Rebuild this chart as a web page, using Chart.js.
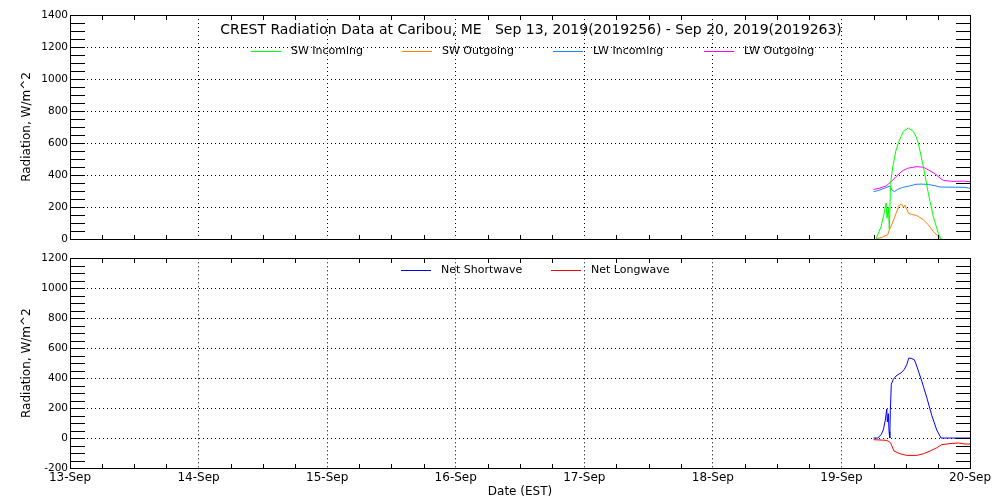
<!DOCTYPE html>
<html>
<head>
<meta charset="utf-8">
<script src="https://cdn.jsdelivr.net/npm/chart.js@4.4.1/dist/chart.umd.min.js"></script>
<style>
  body { margin: 0; background: #fff; }
  canvas { display: block; }
</style>
</head>
<body>
<canvas id="radChart" width="1000" height="250"></canvas>
<canvas id="netChart" width="1000" height="250"></canvas>
<script>
const dayLabels = ['13-Sep', '14-Sep', '15-Sep', '16-Sep', '17-Sep', '18-Sep', '19-Sep', '20-Sep'];
const titleText = 'CREST Radiation Data at Caribou, ME   Sep 13, 2019(2019256) - Sep 20, 2019(2019263)';

// hours after 19-Sep 00:00 EST, values in W/m^2
const swInHours = [6.46, 7.39, 8.01, 8.33, 8.51, 8.75, 8.94, 9.13, 9.26, 9.58, 10.19, 10.62, 11.13, 11.55, 12.49, 13.42, 13.93, 14.35, 15.29, 16.22, 17.15, 18.09, 18.59];
const swIn = [0, 77, 167, 225, 130, 200, 60, 290, 370, 452, 556, 599, 640, 672, 694, 672, 640, 599, 452, 286, 140, 35, 0];

const swOutHours = [6.46, 7.71, 8.64, 8.94, 9.45, 10.19, 10.81, 11.26, 11.55, 11.87, 12.19, 12.56, 13.31, 13.93, 14.35, 15.29, 16.22, 17.15, 18.09, 18.72];
const swOut = [0, 12, 27, 58, 94, 160, 212, 217, 198, 212, 185, 160, 152, 148, 141, 120, 89, 47, 16, 0];

const lwInHours = [6.0, 6.78, 8.01, 9.07, 9.45, 9.87, 10.51, 11.44, 12.67, 13.93, 14.99, 16.22, 17.47, 18.41, 23.07, 24.0];
const lwIn = [296, 302, 317, 331, 306, 296, 310, 323, 331, 342, 343, 341, 333, 325, 323, 317];

const lwOutHours = [6.0, 7.07, 8.33, 9.26, 10.19, 11.44, 12.38, 13.93, 15.29, 16.22, 17.47, 18.41, 19.03, 20.89, 22.75, 24.0];
const lwOut = [310, 317, 331, 358, 390, 427, 442, 452, 449, 432, 408, 381, 366, 360, 362, 358];

const netSwHours = [6.0, 6.78, 7.39, 7.82, 8.19, 8.46, 8.57, 8.75, 8.89, 9.02, 9.13, 9.31, 9.69, 10.19, 10.81, 11.13, 11.74, 12.19, 12.56, 12.99, 13.61, 13.93, 14.99, 15.92, 16.86, 17.79, 18.59, 24.0];
const netSw = [0, 0, 22, 54, 120, 194, 108, 163, 43, 0, 185, 359, 392, 414, 429, 435, 458, 490, 533, 533, 523, 494, 381, 272, 152, 54, 0, 0];

const netLwHours = [6.0, 8.33, 8.94, 9.26, 9.82, 10.94, 12.19, 14.06, 15.29, 16.54, 17.79, 18.72, 20.27, 21.82, 23.07, 24.0];
const netLw = [-11, -15, -24, -39, -87, -105, -116, -116, -105, -87, -65, -44, -37, -33, -40, -40];

// x axis is in days since 13-Sep 00:00
const toPoints = (hours, vals) => hours.map((h, i) => ({x: 6 + h / 24, y: vals[i]}));

Chart.defaults.font.family = 'DejaVu Sans';
Chart.defaults.color = '#000';

// box round the plot and the small inward ticks, IDL style
const frameTicks = {
    id: 'frameTicks',
    afterDraw(chart, args, opts) {
        const {ctx, chartArea: a} = chart;
        const xs = chart.scales.x, ys = chart.scales.y;
        const L = Math.round(a.left), R = Math.round(a.right);
        const T = Math.round(a.top), B = Math.round(a.bottom);
        ctx.save();
        ctx.fillStyle = '#000';
        const nY = Math.round((opts.yMax - opts.yMin) / 50);
        for (let i = 0; i <= nY; i++) {
            const yy = Math.round(ys.getPixelForValue(opts.yMin + i * 50));
            ctx.fillRect(L, yy, 15, 1);
            ctx.fillRect(R - 14, yy, 15, 1);
        }
        for (let i = 1; i < 28; i++) {
            if (i % 4 === 0) continue;
            const xx = Math.round(xs.getPixelForValue(i / 4));
            ctx.fillRect(xx, B - 4, 1, 5);
            ctx.fillRect(xx, T, 1, 5);
        }
        ctx.fillRect(L, T, R - L + 1, 1);
        ctx.fillRect(L, B, R - L + 1, 1);
        ctx.fillRect(L, T, 1, B - T + 1);
        ctx.fillRect(R, T, 1, B - T + 1);
        ctx.restore();
    }
};

// title and line legend written inside the plot
const insideLegend = {
    id: 'insideLegend',
    afterDraw(chart, args, opts) {
        const {ctx} = chart;
        ctx.save();
        ctx.fillStyle = '#000';
        ctx.textBaseline = 'middle';
        if (opts.title) {
            ctx.font = '14px "DejaVu Sans"';
            ctx.textAlign = 'center';
            ctx.fillText(opts.title, opts.titleX, opts.titleY);
        }
        ctx.font = '11px "DejaVu Sans"';
        ctx.textAlign = 'left';
        ctx.lineWidth = 1;
        chart.data.datasets.forEach((ds, i) => {
            const x0 = opts.x0 + i * opts.step;
            ctx.strokeStyle = ds.borderColor;
            ctx.beginPath();
            ctx.moveTo(x0, opts.y + 0.5);
            ctx.lineTo(x0 + 30, opts.y + 0.5);
            ctx.stroke();
            ctx.fillText(ds.label, x0 + 40, opts.y);
        });
        ctx.restore();
    }
};

const makeChart = (id, datasets, yMin, yMax, showDates, legendOpts, pad) => {
    new Chart(document.getElementById(id), {
        type: 'line',
        data: {datasets},
        plugins: [frameTicks, insideLegend],
        options: {
            responsive: false,
            devicePixelRatio: 1,
            animation: false,
            layout: {padding: pad},
            elements: {
                point: {radius: 0},
                line: {borderWidth: 1, tension: 0},
            },
            plugins: {
                legend: {display: false},
                insideLegend: legendOpts,
                frameTicks: {yMin, yMax},
                tooltip: {enabled: false},
            },
            scales: {
                x: {
                    type: 'linear',
                    min: 0,
                    max: 7,
                    afterFit: (s) => { s.height = showDates ? 32 : 11; },
                    grid: {color: '#000', drawTicks: false},
                    border: {display: true, color: '#000', dash: [1, 3]},
                    ticks: {
                        display: showDates,
                        stepSize: 1,
                        maxRotation: 0,
                        autoSkip: false,
                        padding: 3,
                        font: {size: 12},
                        callback: (v) => dayLabels[v] ?? '',
                    },
                    title: {
                        display: showDates,
                        text: 'Date (EST)',
                        font: {size: 12},
                        padding: {top: 0, bottom: 1},
                    },
                },
                y: {
                    min: yMin,
                    max: yMax,
                    afterFit: (s) => { s.width = 70; },
                    grid: {color: '#000', drawTicks: false},
                    border: {display: true, color: '#000', dash: [1, 3]},
                    ticks: {stepSize: 200, padding: 2, font: {size: 10.5}, callback: (v) => String(v)},
                    title: {
                        display: true,
                        text: 'Radiation, W/m^2',
                        font: {size: 12},
                        padding: {top: 20, bottom: 0},
                    },
                },
            },
        },
    });
};

makeChart('radChart', [
    {label: 'SW Incoming', data: toPoints(swInHours, swIn), borderColor: '#00ff00'},
    {label: 'SW Outgoing', data: toPoints(swOutHours, swOut), borderColor: '#ff7f00'},
    {label: 'LW Incoming', data: toPoints(lwInHours, lwIn), borderColor: '#1e82f0'},
    {label: 'LW Outgoing', data: toPoints(lwOutHours, lwOut), borderColor: '#ff00ff'},
], 0, 1400, false,
    {title: titleText, titleX: 531, titleY: 30, x0: 251, step: 151, y: 51},
    {top: 15, right: 30, left: 0, bottom: 0});

makeChart('netChart', [
    {label: 'Net Shortwave', data: toPoints(netSwHours, netSw), borderColor: '#0000ff'},
    {label: 'Net Longwave', data: toPoints(netLwHours, netLw), borderColor: '#ff0000'},
], -200, 1200, true,
    {x0: 401, step: 150, y: 20},
    {top: 5, right: 30, left: 0, bottom: 0});
</script>
</body>
</html>
